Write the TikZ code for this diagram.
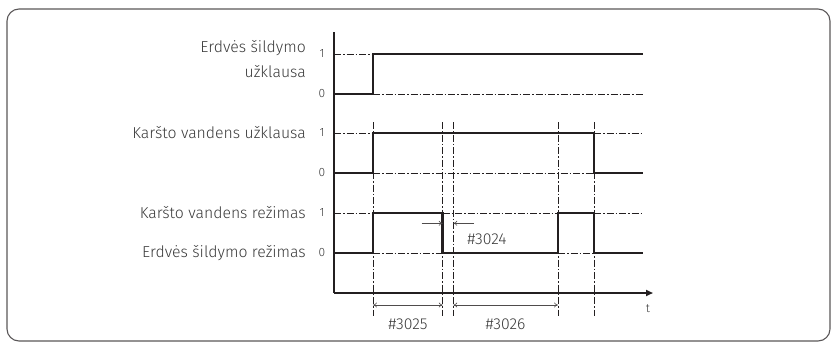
\documentclass[tikz,border=0pt]{standalone}
\usepackage{fontspec}
\setmainfont{Fira Sans}[UprightFont=* Light]
\usetikzlibrary{arrows.meta}
\definecolor{ink}{HTML}{231F20}
\definecolor{txt}{HTML}{3A3A3A}
\begin{document}
\begin{tikzpicture}[x=1pt,y=-1pt,
  sig/.style={line width=2.6pt,ink,line join=miter},
  axisline/.style={line width=2.2pt,ink},
  dd/.style={line width=0.9pt,ink,dash pattern=on 7pt off 2pt on 1.5pt off 2pt},
  dim/.style={line width=0.6pt,ink!80},
  lbl/.style={font=\fontsize{15.8}{17}\selectfont,text=txt,inner sep=0pt},
  num/.style={font=\fontsize{12}{14}\selectfont,text=txt,inner sep=0pt},
  tip/.style={-{To[length=4pt,width=5pt]}}
]
\useasboundingbox (0,0) rectangle (832,343);
\draw[line width=1.1pt,ink!75,rounded corners=12pt] (7,9) rectangle (830,341);
% axes
\coordinate (top) at (334,32);
\coordinate (orig) at (334,293);
\coordinate (tend) at (653,293);
\draw[axisline] (top) -- (orig);
\draw[axisline,-{Triangle[length=7pt,width=6pt]}] (orig) -- (tend);
\node[num] (t) at (648,309) {t};
% level guides
\draw[dd] (334,54) -- (373,54);
\draw[dd] (373,94) -- (643,94);
\draw[dd] (334,133) -- (373,133);
\draw[dd] (594,133) -- (643,133);
\draw[dd] (373,173) -- (594,173);
\draw[dd] (334,213) -- (373,213);
\draw[dd] (442.7,213) -- (558,213);
\draw[dd] (594,213) -- (643,213);
\draw[dd] (373,253) -- (442.7,253);
\draw[dd] (558,253) -- (594,253);
% vertical guides
\foreach \xx in {373,442.7,453.3,558,594} \draw[dd] (\xx,122) -- (\xx,316);
% signals
\draw[sig] (334,94) -- (373,94) -- (373,54) -- (643,54);
\draw[sig] (334,173) -- (373,173) -- (373,133) -- (594,133) -- (594,173) -- (643,173);
\draw[sig] (334,253) -- (373,253) -- (373,213) -- (442.7,213) -- (442.7,253) -- (558,253) -- (558,213) -- (594,213) -- (594,253) -- (643,253);
% labels
\node[lbl,anchor=east] (l1a) at (306,48) {Erdvės šildymo};
\node[lbl,anchor=east] (l1b) at (306,72) {užklausa};
\node[lbl,anchor=east] (l2) at (306,133) {Karšto vandens užklausa};
\node[lbl,anchor=east] (l3) at (306,213) {Karšto vandens režimas};
\node[lbl,anchor=east] (l4) at (306,253) {Erdvės šildymo režimas};
\foreach \yy/\vv in {54/1,94/0,133/1,173/0,213/1,253/0} \node[num] at (322,\yy) {\vv};
% dimensions
\coordinate (a1) at (373,305); \coordinate (a2) at (442.7,305);
\coordinate (b1) at (453.3,305); \coordinate (b2) at (558,305);
\draw[dim,{To[length=4pt,width=5pt]}-{To[length=4pt,width=5pt]}] (a1) -- (a2);
\draw[dim,{To[length=4pt,width=5pt]}-{To[length=4pt,width=5pt]}] (b1) -- (b2);
\node[lbl] (d25) at (408,324) {\#3025};
\node[lbl] (d26) at (505.5,324) {\#3026};
\coordinate (c1) at (421.7,223.3); \coordinate (c2) at (442.7,223.3);
\coordinate (c3) at (474,223.3); \coordinate (c4) at (453.3,223.3);
\draw[dim,tip] (c1) -- (c2);
\draw[dim,tip] (c3) -- (c4);
\node[lbl] (d24) at (487,239) {\#3024};
\end{tikzpicture}
\end{document}
